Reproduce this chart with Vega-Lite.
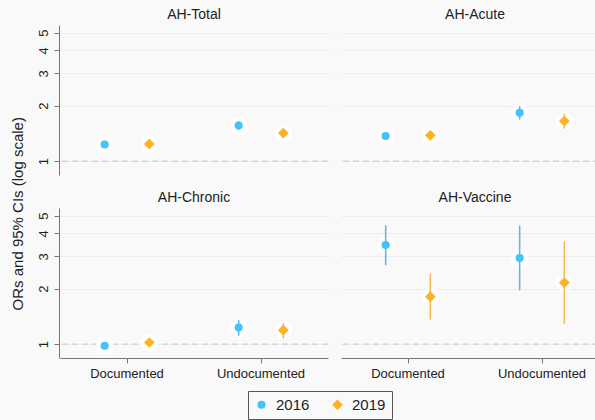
{
  "$schema": "https://vega.github.io/schema/vega-lite/v6.json",
  "background": "#f9f9f9",
  "padding": {"left": 10, "top": 8, "right": 0, "bottom": 0},
  "title": {"text": "ORs and 95% CIs (log scale)", "orient": "left", "anchor": "middle", "fontSize": 15, "fontWeight": "normal", "font": "Liberation Sans", "color": "#222222", "offset": 11},
  "config": {
    "font": "Liberation Sans",
    "view": {"stroke": null},
    "axis": {"labelFont": "Liberation Sans", "titleFont": "Liberation Sans", "labelColor": "#222222", "titleColor": "#222222", "domainColor": "#777777", "tickColor": "#777777"}
  },
  "data": {"values": [
    {"panel": "AH-Total", "status": "Documented", "year": 2016, "or": 1.23, "lo": 1.20, "hi": 1.26},
    {"panel": "AH-Total", "status": "Documented", "year": 2019, "or": 1.24, "lo": 1.21, "hi": 1.28},
    {"panel": "AH-Total", "status": "Undocumented", "year": 2016, "or": 1.56, "lo": 1.48, "hi": 1.65},
    {"panel": "AH-Total", "status": "Undocumented", "year": 2019, "or": 1.42, "lo": 1.37, "hi": 1.48},
    {"panel": "AH-Acute", "status": "Documented", "year": 2016, "or": 1.37, "lo": 1.34, "hi": 1.40},
    {"panel": "AH-Acute", "status": "Documented", "year": 2019, "or": 1.38, "lo": 1.35, "hi": 1.41},
    {"panel": "AH-Acute", "status": "Undocumented", "year": 2016, "or": 1.83, "lo": 1.68, "hi": 1.99},
    {"panel": "AH-Acute", "status": "Undocumented", "year": 2019, "or": 1.65, "lo": 1.50, "hi": 1.81},
    {"panel": "AH-Chronic", "status": "Documented", "year": 2016, "or": 0.98, "lo": 0.95, "hi": 1.01},
    {"panel": "AH-Chronic", "status": "Documented", "year": 2019, "or": 1.02, "lo": 0.99, "hi": 1.05},
    {"panel": "AH-Chronic", "status": "Undocumented", "year": 2016, "or": 1.23, "lo": 1.11, "hi": 1.35},
    {"panel": "AH-Chronic", "status": "Undocumented", "year": 2019, "or": 1.19, "lo": 1.07, "hi": 1.30},
    {"panel": "AH-Vaccine", "status": "Documented", "year": 2016, "or": 3.46, "lo": 2.69, "hi": 4.43},
    {"panel": "AH-Vaccine", "status": "Documented", "year": 2019, "or": 1.81, "lo": 1.36, "hi": 2.42},
    {"panel": "AH-Vaccine", "status": "Undocumented", "year": 2016, "or": 2.94, "lo": 1.96, "hi": 4.41},
    {"panel": "AH-Vaccine", "status": "Undocumented", "year": 2019, "or": 2.16, "lo": 1.29, "hi": 3.62}
  ]},
  "facet": {
    "field": "panel", "type": "nominal",
    "sort": ["AH-Total", "AH-Acute", "AH-Chronic", "AH-Vaccine"],
    "header": {"title": null, "labelFont": "Liberation Sans", "labelFontSize": 14, "labelColor": "#222222", "labelPadding": 3}
  },
  "columns": 2,
  "spacing": {"row": 16, "column": 11},
  "spec": {
    "width": 268,
    "height": 150,
    "encoding": {
      "x": {"field": "status", "type": "nominal", "sort": ["Documented", "Undocumented"],
        "scale": {"paddingInner": 0, "paddingOuter": 0},
        "axis": {"title": null, "labelAngle": 0, "labelFontSize": 13, "tickSize": 5, "labelPadding": 4, "grid": false}},
      "xOffset": {"field": "year", "type": "nominal", "scale": {"type": "point", "padding": 1.03}}
    },
    "layer": [
      {
        "transform": [{"filter": "datum.status == 'Documented' && datum.year == 2016"}],
        "mark": {"type": "rule", "strokeDash": [6, 4], "color": "#cfcfcf", "strokeWidth": 1.3},
        "encoding": {"x": null, "xOffset": null, "y": {"datum": 1, "type": "quantitative"}}
      },
      {
        "mark": {"type": "point", "filled": true, "shape": "circle", "size": 320, "color": "#ffffff", "opacity": 0.8},
        "encoding": {"y": {"field": "or", "type": "quantitative"}}
      },
      {
        "mark": {"type": "rule", "strokeWidth": 1.5},
        "encoding": {
          "y": {"field": "lo", "type": "quantitative"},
          "y2": {"field": "hi"},
          "color": {"condition": {"test": "datum.year == 2016", "value": "#5fb4e3"}, "value": "#f5ba4d"}
        }
      },
      {
        "mark": {"type": "point", "filled": true, "opacity": 1},
        "encoding": {
          "y": {"field": "or", "type": "quantitative",
            "scale": {"type": "log", "domain": [0.84, 5.5], "nice": false},
            "axis": {"title": null,
              "values": [1, 2, 3, 4, 5], "labelAngle": -90, "labelAlign": "center", "labelBaseline": "bottom", "labelFontSize": 13,
              "tickSize": 5, "labelPadding": 4, "grid": true, "gridColor": "#e8eef1", "gridWidth": 1}},
          "color": {"field": "year", "type": "nominal", "scale": {"domain": [2016, 2019], "range": ["#45c3f8", "#fdb124"]},
            "legend": {"title": null, "orient": "none", "legendX": 188, "legendY": 366, "direction": "horizontal",
              "strokeColor": "#555555", "padding": 6, "labelFontSize": 15, "labelFont": "Liberation Sans", "labelColor": "#222222",
              "labelOffset": 7, "columnPadding": 20, "symbolStrokeWidth": 0}},
          "shape": {"field": "year", "type": "nominal", "scale": {"domain": [2016, 2019], "range": ["circle", "diamond"]}},
          "size": {"field": "year", "type": "nominal", "scale": {"domain": [2016, 2019], "range": [66, 115]}}
        }
      }
    ]
  }
}
